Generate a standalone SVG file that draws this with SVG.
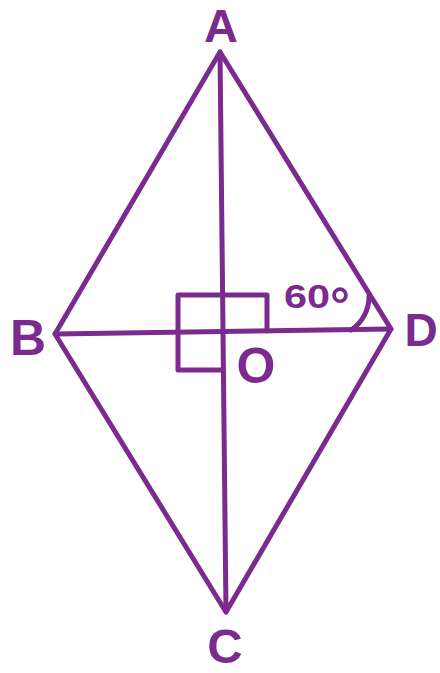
<svg xmlns="http://www.w3.org/2000/svg" width="440" height="673" viewBox="0 0 440 673">
<style>
.ln{stroke:#7b2b8e;stroke-width:5;fill:none;stroke-linecap:round;stroke-linejoin:round}
.lb{font-family:"Liberation Sans",Arial,sans-serif;font-weight:bold;fill:#7b2b8e;text-anchor:middle}
</style>
<rect width="440" height="673" fill="#fff"/>
<g id="connectors">
<path class="ln" d="M220,52 L55,334 L226,612 L391,329 Z"/>
<line class="ln" x1="220" y1="52" x2="226" y2="612"/>
<line class="ln" x1="55" y1="334" x2="391" y2="329"/>
<path class="ln" d="M222,370 H178 V295 H267 V331"/>
<path class="ln" d="M351,330 A40,40 0 0 0 369,296"/>
</g>
<g id="A"><text class="lb" x="221" y="42" font-size="47">A</text></g>
<g id="B"><text class="lb" x="28" y="355" font-size="50">B</text></g>
<g id="D"><text class="lb" x="421" y="346" font-size="46">D</text></g>
<g id="O"><text class="lb" x="256" y="383" font-size="50">O</text></g>
<g id="C"><text class="lb" x="225" y="663" font-size="49">C</text></g>
<g id="angle"><text class="lb" font-size="33" style="text-anchor:start"><tspan x="284" y="308" textLength="46" lengthAdjust="spacingAndGlyphs">60</tspan><tspan x="330" y="322" font-size="50">°</tspan></text></g>
</svg>
